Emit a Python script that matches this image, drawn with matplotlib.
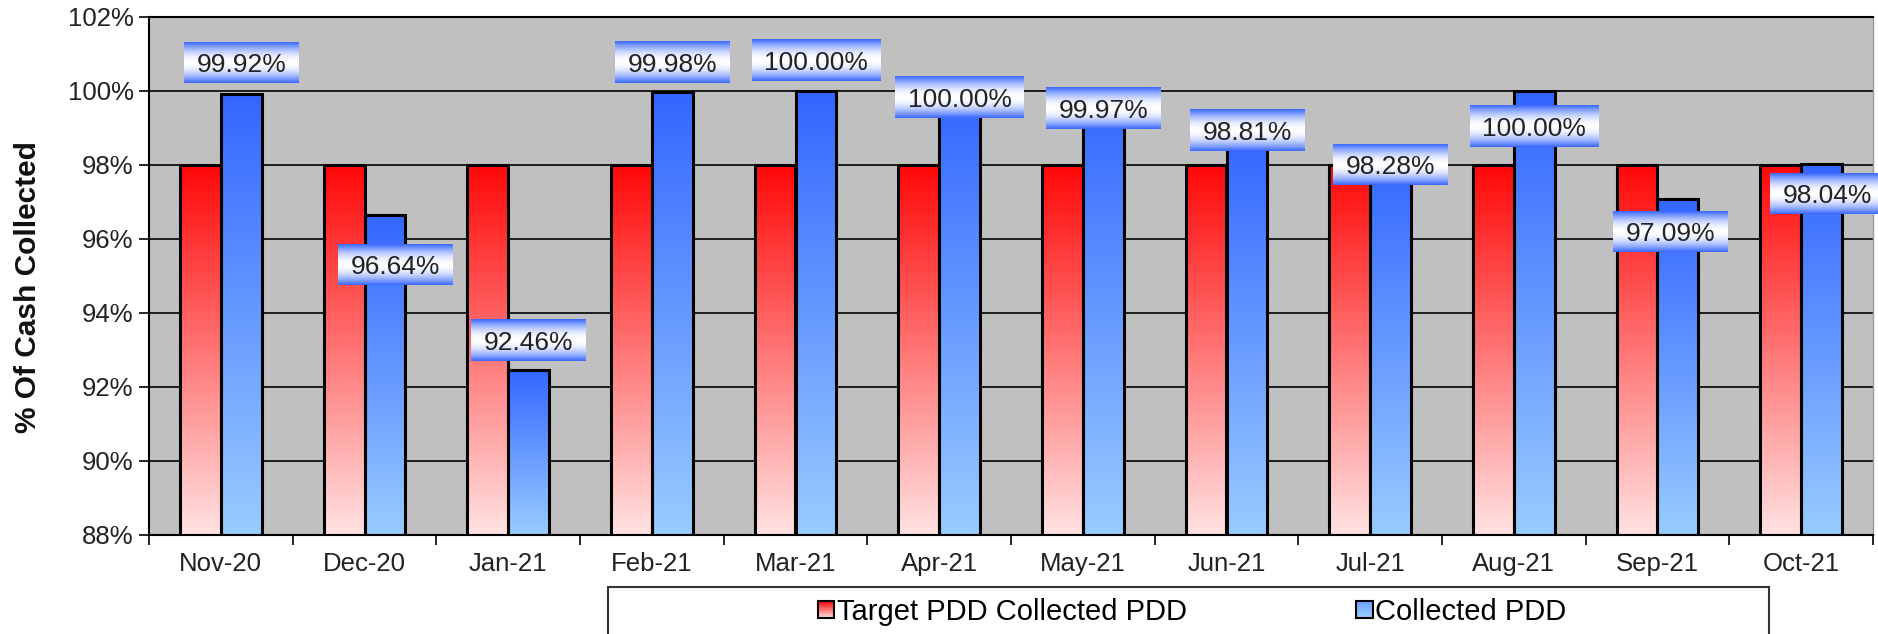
import numpy as np
import matplotlib
matplotlib.use('Agg')
import matplotlib.pyplot as plt
from matplotlib.patches import Rectangle
from matplotlib.legend_handler import HandlerBase

plt.rcParams['font.family'] = ['Liberation Sans', 'DejaVu Sans']

months = ['Nov-20', 'Dec-20', 'Jan-21', 'Feb-21', 'Mar-21', 'Apr-21',
          'May-21', 'Jun-21', 'Jul-21', 'Aug-21', 'Sep-21', 'Oct-21']
target = [98.0, 98.0, 98.0, 98.0, 98.0, 98.0, 98.0, 98.0, 98.0, 98.0, 98.0, 98.0]
collected = [99.92, 96.64, 92.46, 99.98, 100.00, 100.00, 99.97, 98.81, 98.28, 100.00, 97.09, 98.04]
yticks = [88, 90, 92, 94, 96, 98, 100, 102]

# where the data labels were dragged to (centre y in %, x shift in category units)
label_y = [100.76, 95.30, 93.27, 100.78, 100.82, 99.82, 99.53, 98.92, 98.01, 99.03, 96.20, 97.23]
label_dx = [0, 0.07, 0, 0, 0, 0, 0, 0, 0, 0, -0.055, 0.04]

RED_TOP = np.array([255, 8, 8]) / 255
RED_BOT = np.array([255, 226, 226]) / 255
BLUE_TOP = np.array([51, 102, 255]) / 255
BLUE_BOT = np.array([153, 204, 255]) / 255
LEG_BLUE_TOP = np.array([110, 160, 255]) / 255
LEG_BLUE_BOT = np.array([160, 205, 255]) / 255
BOX_BLUE = np.array([60, 105, 255]) / 255
BASE = 88


def vgrad(top, bot, n=256):
    t = np.linspace(0, 1, n)[:, None, None]
    return top * (1 - t) + bot * t


def box_grad(n=64):
    t = np.linspace(0, 1, n)[:, None, None]
    a = np.abs(2 * t - 1) ** 1.8
    return np.ones(3) * (1 - a) + BOX_BLUE * a


class GradHandler(HandlerBase):
    def __init__(self, top, bot):
        super().__init__()
        self.top, self.bot = top, bot

    def create_artists(self, legend, orig_handle, xdescent, ydescent,
                       width, height, fontsize, trans):
        arts = []
        n = 12
        for k in range(n):
            c = self.top + (self.bot - self.top) * k / (n - 1)
            arts.append(Rectangle((-xdescent, -ydescent + height * (1 - (k + 1) / n)),
                                  width, height / n, facecolor=c, edgecolor='none',
                                  transform=trans))
        arts.append(Rectangle((-xdescent, -ydescent), width, height, fill=False,
                              edgecolor='black', lw=1.5, transform=trans))
        return arts


fig = plt.figure(figsize=(18.78, 6.34), dpi=100)
ax = fig.add_axes([149 / 1878, 1 - 535 / 634, 1724 / 1878, 518 / 634])
ax.set_facecolor('#c0c0c0')

x = np.arange(len(months))
w = 0.285

for i in x:
    ax.imshow(vgrad(RED_TOP, RED_BOT), extent=(i - w, i, BASE, target[i]),
              origin='upper', aspect='auto', zorder=2, interpolation='bilinear')
    ax.imshow(vgrad(BLUE_TOP, BLUE_BOT), extent=(i, i + w, BASE, collected[i]),
              origin='upper', aspect='auto', zorder=2, interpolation='bilinear')

ax.bar(x - w / 2, np.array(target) - BASE, w, bottom=BASE, facecolor='none',
       edgecolor='black', lw=2.2, zorder=3)
ax.bar(x + w / 2, np.array(collected) - BASE, w, bottom=BASE, facecolor='none',
       edgecolor='black', lw=2.2, zorder=3)

ax.set_xlim(-0.5, len(months) - 0.5)
ax.set_ylim(88, 102)
ax.set_yticks(yticks)
ax.set_yticklabels(['%d%%' % v for v in yticks])
ax.yaxis.grid(True, color='black', lw=1.2)
ax.set_axisbelow(True)

ax.set_xticks(x)
ax.set_xticklabels(months)
ax.set_xticks(np.arange(len(months) + 1) - 0.5, minor=True)
ax.tick_params(axis='x', which='major', length=0, pad=12, labelsize=18.5, labelcolor='#222222')
ax.tick_params(axis='x', which='minor', length=7, width=1.2, direction='out')
ax.tick_params(axis='y', length=7, width=1.2, pad=4, labelsize=18.5, labelcolor='#222222')

for s in ['left', 'bottom', 'top']:
    ax.spines[s].set_color('black')
    ax.spines[s].set_linewidth(1.5)
ax.spines['right'].set_color('#9a9a9a')
ax.spines['right'].set_linewidth(1.0)

ax.set_ylabel('% Of Cash Collected', fontsize=21.5, fontweight='bold', color='#111111')
ax.yaxis.set_label_coords(-0.062, 0.478)

# data labels with blue-white-blue boxes
fig.canvas.draw()
renderer = fig.canvas.get_renderer()
inv = ax.transData.inverted()
for i in x:
    xc = i + w / 2 + label_dx[i]
    yc = label_y[i]
    txt = ax.text(xc, yc, '%.2f%%' % collected[i], ha='center', va='center_baseline',
                  fontsize=19, color='#222222', zorder=6, clip_on=False)
    bb = txt.get_window_extent(renderer)
    cx, cy = ax.transData.transform((xc, yc))
    x0, _ = inv.transform((bb.x0 - 12.5, cy))
    x1, _ = inv.transform((bb.x1 + 12.5, cy))
    _, y0 = inv.transform((cx, cy - 20.5))
    _, y1 = inv.transform((cx, cy + 20.5))
    ax.imshow(box_grad(), extent=(x0, x1, y0, y1), origin='upper', aspect='auto',
              zorder=5, interpolation='bilinear', clip_on=False)

ax.set_xlim(-0.5, len(months) - 0.5)
ax.set_ylim(88, 102)

# legend, framed by a box that runs off the bottom of the figure
h1 = Rectangle((0, 0), 1, 1)
h2 = Rectangle((0, 0), 1, 1)
fig.legend([h1, h2], ['Target PDD Collected PDD', 'Collected PDD'],
           handler_map={h1: GradHandler(RED_TOP, RED_BOT),
                        h2: GradHandler(LEG_BLUE_TOP, LEG_BLUE_BOT)},
           loc='center', bbox_to_anchor=(1192.5 / 1878, 1 - 612 / 634), ncol=2,
           frameon=False, fontsize=21, handlelength=0.55, handleheight=0.55,
           handletextpad=0.1, columnspacing=5.8)
fig.add_artist(Rectangle((608 / 1878, -0.1), (1769 - 608) / 1878, (1 - 587 / 634) + 0.1,
                         transform=fig.transFigure, fill=False, edgecolor='#333333', lw=1.5))

fig.savefig('out.png', dpi=100)
